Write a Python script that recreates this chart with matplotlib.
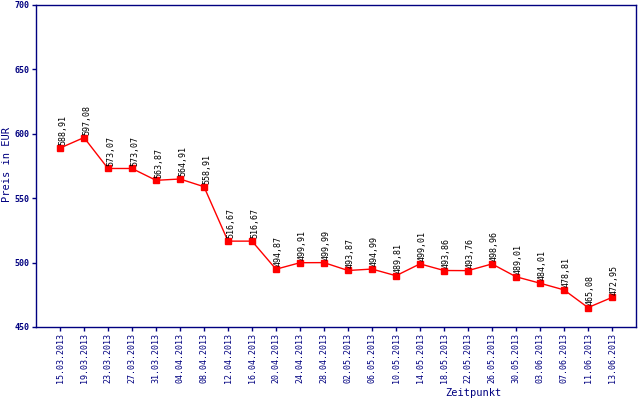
import matplotlib
matplotlib.use("Agg")
import matplotlib.pyplot as plt

dates = ["15.03.2013", "19.03.2013", "23.03.2013", "27.03.2013", "31.03.2013",
         "04.04.2013", "08.04.2013", "12.04.2013", "16.04.2013", "20.04.2013",
         "24.04.2013", "28.04.2013", "02.05.2013", "06.05.2013", "10.05.2013",
         "14.05.2013", "18.05.2013", "22.05.2013", "26.05.2013", "30.05.2013",
         "03.06.2013", "07.06.2013", "11.06.2013", "13.06.2013"]
prices = [588.91, 597.08, 573.07, 573.07, 563.87, 564.91, 558.91, 516.67,
          516.67, 494.87, 499.91, 499.99, 493.87, 494.99, 489.81, 499.01,
          493.86, 493.76, 498.96, 489.01, 484.01, 478.81, 465.08, 472.95]
yticks = [450, 500, 550, 600, 650, 700]

navy = "#000080"
red = "#FF0000"
mono = "DejaVu Sans Mono"

fig = plt.figure(figsize=(6.4, 4.0), dpi=100)
ax = fig.add_axes([36/640, 73/400, 600/640, 322/400])
x = list(range(len(prices)))
ax.plot(x, prices, color=red, linewidth=1, marker="s", markersize=5,
        markerfacecolor=red, markeredgecolor=red)
for xi, v in zip(x, prices):
    ax.annotate(f"{v:.2f}".replace(".", ","), (xi, v), xytext=(-1.5, 2),
                textcoords="offset points", rotation=90, ha="left", va="bottom",
                fontsize=6, family=mono, color="black")

ax.set_xlim(-1, len(prices))
ax.set_ylim(450, 700)
ax.set_xticks(x)
ax.set_xticklabels(dates, rotation=90, fontsize=6, family=mono, color=navy)
ax.set_yticks(yticks)
ax.set_yticklabels([str(t) for t in yticks], fontsize=6, family=mono, color=navy,
                   fontweight="bold")
ax.tick_params(axis="both", color=navy, length=3, width=1, pad=1.5)
for s in ax.spines.values():
    s.set_color(navy)
    s.set_linewidth(1)

fig.text(7/640, 1 - 165/400, "Preis in EUR", rotation=90, ha="center", va="center",
         fontsize=7.5, family=mono, color=navy)
fig.text(473/640, 1 - 393/400, "Zeitpunkt", ha="center", va="center",
         fontsize=7.5, family=mono, color=navy)

fig.savefig("out.png", dpi=100)
